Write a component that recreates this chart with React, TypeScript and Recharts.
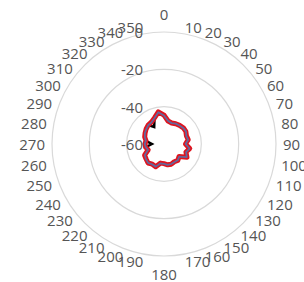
import React from "react";
import { RadarChart, Radar, PolarGrid, PolarAngleAxis, PolarRadiusAxis } from "recharts";

const angleLabels = ["0","10","20","30","40","50","60","70","80","90","100","110","120","130","140","150","160","170","180","190","200","210","220","230","240","250","260","270","280","290","300","310","320","330","340","350"];

const redSeries = [-44.5,-47.5,-48.0,-47.5,-47.0,-46.5,-46.5,-47.2,-46.8,-48.5,-46.0,-47.5,-45.8,-49.5,-48.5,-49.0,-48.5,-48.7,-49.5,-49.6,-47.0,-47.5,-46.7,-47.5,-48.0,-51.0,-50.0,-49.8,-50.2,-49.0,-48.3,-47.5,-46.8,-46.5,-45.1,-42.5];

const blueSeries = [-44.7,-47.4,-48.1,-47.4,-47.1,-46.6,-46.4,-47.3,-46.9,-48.4,-46.1,-47.4,-45.9,-49.4,-48.6,-48.9,-48.6,-48.6,-49.4,-49.5,-47.1,-47.4,-46.8,-47.4,-48.1,-50.9,-50.1,-49.7,-50.1,-49.1,-48.2,-47.6,-46.9,-46.6,-45.2,-42.7];

const blackSeries = [-44.5,-47.5,-48.0,-47.5,-47.0,-46.5,-46.5,-47.2,-46.8,-48.5,-46.0,-47.5,-45.8,-49.5,-48.5,-49.0,-48.5,-48.7,-49.5,-49.6,-47.0,-47.5,-46.7,-47.5,-48.0,-51.0,-50.0,-53.5,-50.2,-49.0,-48.3,-47.5,-46.8,-49.5,-45.1,-42.5];

const radiusTicks = [-60, -40, -20, 0];

const data = angleLabels.map((a, i) => ({
  angle: a,
  red: redSeries[i],
  blue: blueSeries[i],
  black: blackSeries[i],
}));

const CX = 164;
const CY = 144;
const OUTER = 112;
const FONT = "'Open Sans', 'Noto Sans', sans-serif";
const TEXT_COLOR = "#555555";

const AngleTick = (props: any) => {
  const deg = Number(props.payload.value);
  const rad = (deg * Math.PI) / 180;
  const s = Math.sin(rad);
  const c = Math.cos(rad);
  let anchor: "start" | "end" | "middle" = "middle";
  if (s > 0.01) anchor = "start";
  else if (s < -0.01) anchor = "end";
  let R = OUTER + 7;
  if (anchor === "middle") R = OUTER + 18;
  const x = CX + R * s;
  const y = CY - R * c;
  return (
    <text x={x} y={y} textAnchor={anchor} dominantBaseline="central" fill={TEXT_COLOR} fontSize={15} fontFamily={FONT}>
      {props.payload.value}
    </text>
  );
};

const RadiusTick = (props: any) => {
  return (
    <text x={props.x - 21} y={props.y} textAnchor="end" dominantBaseline="central" fill={TEXT_COLOR} fontSize={15} fontFamily={FONT}>
      {props.payload.value}
    </text>
  );
};

export default function App() {
  return (
    <div style={{ position: "absolute", left: 0, top: 0, width: 304, height: 282, background: "#fff" }}>
      <RadarChart width={304} height={282} data={data} cx={CX} cy={CY} outerRadius={OUTER} margin={{ top: 0, right: 0, bottom: 0, left: 0 }}>
        <PolarGrid gridType="circle" radialLines={false} stroke="#d9d9d9" strokeWidth={1.2} />
        <PolarAngleAxis dataKey="angle" tickLine={false} axisLine={false} tick={AngleTick} />
        <PolarRadiusAxis angle={90} type="number" domain={[-60, 0]} ticks={radiusTicks} tickCount={4} axisLine={false} tickLine={false} tick={RadiusTick} />
        <Radar dataKey="black" stroke="#000000" strokeWidth={2.5} fill="none" fillOpacity={0} dot={false} isAnimationActive={false} />
        <Radar dataKey="red" stroke="#e0141e" strokeWidth={5} strokeLinejoin="round" fill="none" fillOpacity={0} dot={false} isAnimationActive={false} />
        <Radar dataKey="blue" stroke="#66669a" strokeWidth={1.8} strokeLinejoin="round" fill="none" fillOpacity={0} dot={false} isAnimationActive={false} />
      </RadarChart>
    </div>
  );
}
